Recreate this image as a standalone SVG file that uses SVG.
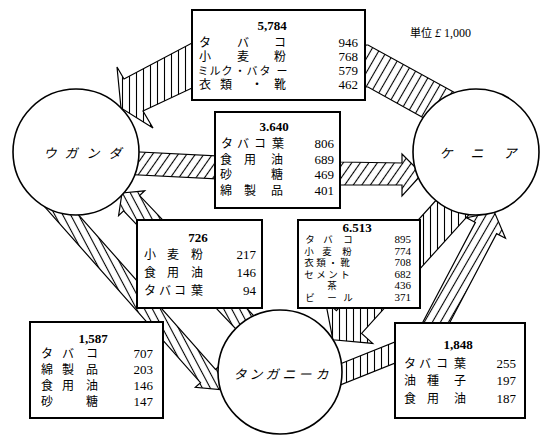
<svg xmlns="http://www.w3.org/2000/svg" width="542" height="435" viewBox="0 0 542 435">
<defs>
<pattern id="hv" width="7" height="7" patternUnits="userSpaceOnUse"><line x1="3.5" y1="-1" x2="3.5" y2="8" stroke="#000" stroke-width="1.1"/></pattern>
<pattern id="hs" width="7" height="7" patternUnits="userSpaceOnUse" patternTransform="rotate(30)"><line x1="3.5" y1="-1" x2="3.5" y2="8" stroke="#000" stroke-width="1.1"/></pattern>
<pattern id="hs2" width="7" height="7" patternUnits="userSpaceOnUse" patternTransform="rotate(35)"><line x1="3.5" y1="-1" x2="3.5" y2="8" stroke="#000" stroke-width="1.1"/></pattern>
<pattern id="hb" width="7" height="7" patternUnits="userSpaceOnUse" patternTransform="rotate(-28)"><line x1="3.5" y1="-1" x2="3.5" y2="8" stroke="#000" stroke-width="1.1"/></pattern>
</defs>
<style>
.arrow{stroke:#000;stroke-width:1.2;stroke-linejoin:miter}
.circ{fill:#fff;stroke:#000;stroke-width:1.6}
.box{fill:#fff;stroke:#000;stroke-width:2}
.jp{font-family:"Noto Sans CJK JP",sans-serif;font-size:12px;text-anchor:middle;fill:#000}
.jps{font-family:"Noto Sans CJK JP",sans-serif;font-size:9.5px;text-anchor:middle;fill:#000}
.cn{font-family:"Noto Sans CJK JP",sans-serif;font-size:13px;text-anchor:middle;font-style:italic;fill:#000}
.num{font-family:"Liberation Serif",serif;font-size:13px;text-anchor:end;fill:#000}
.nums{font-family:"Liberation Serif",serif;font-size:11px;text-anchor:end;fill:#000}
.title{font-family:"Liberation Serif",serif;font-weight:bold;font-size:13px;text-anchor:middle;fill:#000}
.unit{font-family:"Liberation Serif","Noto Sans CJK JP",serif;font-size:12px;fill:#000}
</style>
<rect width="542" height="435" fill="#fff"/>
<g id="connectors">
<polygon class="arrow" fill="url(#hs)" points="470,101 368,45 300,45 300,87 368,87 440,127"/>
<polygon class="arrow" fill="url(#hv)" points="250,43 192,43 124,79 117,67 121,108 153,128 143,111 192,88 250,88"/>
<polygon class="arrow" fill="url(#hs2)" points="100,150 340,162 402,163 402,154 422,174 402,196 402,185 340,185 100,173"/>
<polygon class="arrow" fill="url(#hb)" points="263,325.4 139.6,195.6 144.7,190.8 122,193 118.6,215.6 123.6,210.8 247,340.6"/>
<polygon class="arrow" fill="url(#hb)" points="59.5,193.4 215.5,369.4 220.7,364.7 220,389.5 195.3,387.3 200.5,382.6 44.5,206.6"/>
<polygon class="arrow" fill="url(#hv)" points="450.3,184.5 336.4,310.6 325.3,300.6 332.9,339.8 372.7,343.4 361.6,333.4 475.5,207.3"/>
<polygon class="arrow" fill="url(#hv)" points="320,372 430,328 430,349 320,393"/>
<polygon class="arrow" fill="url(#hs)" points="402.9,360 475.4,222.4 466.5,217.7 494.4,212.1 505.5,238.3 496.6,233.6 430.1,360"/>
</g>
<g id="uganda">
<circle class="circ" cx="76" cy="152" r="63"/>
<text class="cn" x="50 71 93 115" y="158">ウガンダ</text>
</g>
<g id="kenya">
<circle class="circ" cx="476" cy="152" r="63"/>
<text class="cn" x="446 477 510" y="158">ケニア</text>
</g>
<g id="tanganyika">
<circle class="circ" cx="280" cy="372" r="62"/>
<text class="cn" x="240 256 272 289 305 322" y="379">タンガニーカ</text>
</g>
<g id="box-kenya-uganda">
<rect class="box" x="192" y="10" width="173" height="90"/>
<text class="title" x="272" y="30">5,784</text>
<text class="jp" x="205 243 280" y="47">タバコ</text>
<text class="jp" x="205 243 280" y="61">小麦粉</text>
<text class="jp" style="font-size:11px" x="203 215 227 240 252 265 282" y="75">ミルク・バター</text>
<text class="jp" x="205 226 257 280" y="89">衣類・靴</text>
<text class="num" x="358" y="47">946</text>
<text class="num" x="358" y="61">768</text>
<text class="num" x="358" y="75">579</text>
<text class="num" x="358" y="89">462</text>
</g>
<g id="box-uganda-kenya">
<rect class="box" x="215" y="112" width="125" height="96"/>
<text class="title" x="274" y="131">3.640</text>
<text class="jp" x="227 243 260 278" y="148">タバコ葉</text>
<text class="jp" x="226 250 277" y="164">食用油</text>
<text class="jp" x="226 277" y="179">砂糖</text>
<text class="jp" x="226 250 277" y="195">綿製品</text>
<text class="num" x="334" y="148">806</text>
<text class="num" x="334" y="164">689</text>
<text class="num" x="334" y="179">469</text>
<text class="num" x="334" y="195">401</text>
</g>
<g id="box-tanganyika-uganda">
<rect class="box" x="137" y="220" width="125" height="88"/>
<text class="title" x="198" y="242">726</text>
<text class="jp" x="150 173 197" y="259">小麦粉</text>
<text class="jp" x="150 173 197" y="277">食用油</text>
<text class="jp" x="150 165 180 197" y="295">タバコ葉</text>
<text class="num" x="256" y="259">217</text>
<text class="num" x="256" y="277">146</text>
<text class="num" x="256" y="295">94</text>
</g>
<g id="box-kenya-tanganyika">
<rect class="box" x="298" y="220" width="122" height="88"/>
<text class="title" x="357" y="232">6.513</text>
<text class="jps" x="310 328 348" y="243">タバコ</text>
<text class="jps" x="309 327 347" y="254.5">小麦粉</text>
<text class="jps" x="309 321 333 345" y="266">衣類・靴</text>
<text class="jps" x="309 321 333 345" y="277.5">セメント</text>
<text class="jps" x="332" y="289">茶</text>
<text class="jps" x="310 332 348" y="300.5">ビール</text>
<text class="nums" x="411" y="243">895</text>
<text class="nums" x="411" y="254.5">774</text>
<text class="nums" x="411" y="266">708</text>
<text class="nums" x="411" y="277.5">682</text>
<text class="nums" x="411" y="289">436</text>
<text class="nums" x="411" y="300.5">371</text>
</g>
<g id="box-uganda-tanganyika">
<rect class="box" x="30" y="322" width="133" height="96"/>
<text class="title" x="93" y="343">1,587</text>
<text class="jp" x="47 68 92" y="358">タバコ</text>
<text class="jp" x="47 68 92" y="374">綿製品</text>
<text class="jp" x="47 68 92" y="390">食用油</text>
<text class="jp" x="47 92" y="406">砂糖</text>
<text class="num" x="153" y="358">707</text>
<text class="num" x="153" y="374">203</text>
<text class="num" x="153" y="390">146</text>
<text class="num" x="153" y="406">147</text>
</g>
<g id="box-tanganyika-kenya">
<rect class="box" x="395" y="323" width="130" height="95"/>
<text class="title" x="458" y="349">1,848</text>
<text class="jp" x="410 425 442 460" y="368">タバコ葉</text>
<text class="jp" x="410 433 460" y="385">油種子</text>
<text class="jp" x="410 433 460" y="403">食用油</text>
<text class="num" x="516" y="368">255</text>
<text class="num" x="516" y="385">197</text>
<text class="num" x="516" y="403">187</text>
</g>
<g id="unit">
<text class="unit" x="410" y="37"><tspan font-family="Noto Sans CJK JP,sans-serif" font-size="11">単位</tspan> <tspan font-style="italic">£</tspan> 1,000</text>
</g>
</svg>
